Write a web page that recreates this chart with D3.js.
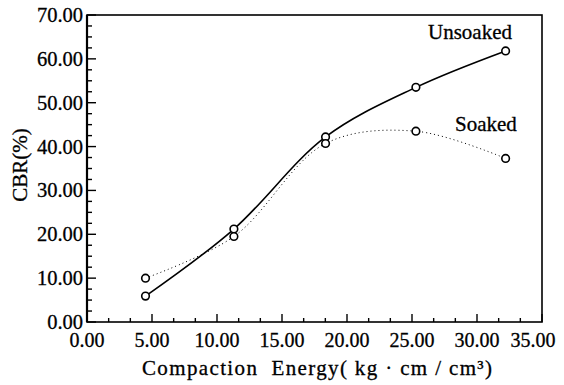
<!DOCTYPE html>
<html>
<head>
<meta charset="utf-8">
<title>CBR vs Compaction Energy</title>
<script src="https://cdn.jsdelivr.net/npm/d3@7"></script>
<style>
  body { margin: 0; background: #fff; }
  text { font-family: "Liberation Serif", "Times New Roman", serif; fill: #000; stroke: #000; stroke-width: 0.3px; }
</style>
</head>
<body>
<div id="chart"></div>
<script>
// data
var energy = [4.5, 11.3, 18.35, 25.3, 32.2];
var unsoaked = [5.9, 21.2, 42.2, 53.5, 61.8];
var soaked = [10.0, 19.5, 40.7, 43.5, 37.3];
var xTicks = [0, 5, 10, 15, 20, 25, 30, 35];
var yTicks = [0, 10, 20, 30, 40, 50, 60, 70];

var width = 564, height = 385,
    padL = 87, padR = 542, padT = 15, padB = 322;

var svg = d3.select('#chart').append('svg')
    .attr('width', width)
    .attr('height', height);

var x = d3.scaleLinear().domain([0, 35]).range([padL, padR]);
var y = d3.scaleLinear().domain([0, 70]).range([padB, padT]);

// frame
svg.append('rect')
    .attr('x', padL).attr('y', padT)
    .attr('width', padR - padL).attr('height', padB - padT)
    .attr('fill', 'none').attr('stroke', '#000').attr('stroke-width', 1.6);
svg.append('line')
    .attr('x1', padL).attr('x2', padL).attr('y1', padT).attr('y2', padB)
    .attr('stroke', '#000').attr('stroke-width', 2.2);

// ticks pointing inward, minor every 5/3 on x and 2.5 on y
var xMinor = d3.range(0, 35.01, 5 / 3);
svg.selectAll('.xt').data(xMinor).enter().append('line')
    .attr('x1', function(d) { return x(d); })
    .attr('x2', function(d) { return x(d); })
    .attr('y1', padB)
    .attr('y2', function(d, i) { return i % 3 == 0 ? padB - 8 : padB - 4; })
    .attr('stroke', '#000').attr('stroke-width', 1.4);

var yMinor = d3.range(0, 70.01, 2.5);
svg.selectAll('.yt').data(yMinor).enter().append('line')
    .attr('y1', function(d) { return y(d); })
    .attr('y2', function(d) { return y(d); })
    .attr('x1', padL)
    .attr('x2', function(d, i) { return i % 4 == 0 ? padL + 9 : padL + 5; })
    .attr('stroke', '#000').attr('stroke-width', 1.4);

// tick labels (last one pulled in so it stays on the page)
svg.selectAll('.xl').data(xTicks).enter().append('text')
    .attr('x', function(d, i) { return i == xTicks.length - 1 ? x(d) - 9 : x(d); })
    .attr('y', 347)
    .attr('text-anchor', 'middle')
    .style('font-size', '20px')
    .text(function(d) { return d.toFixed(2); });

svg.selectAll('.yl').data(yTicks).enter().append('text')
    .attr('x', 83)
    .attr('y', function(d) { return y(d) + 7; })
    .attr('text-anchor', 'end')
    .style('font-size', '20.5px')
    .text(function(d) { return d.toFixed(2); });

// axis titles
svg.append('text')
    .attr('x', 142)
    .attr('y', 375)
    .attr('textLength', 350)
    .attr('lengthAdjust', 'spacing')
    .style('font-size', '21px')
    .style('white-space', 'pre')
    .text('Compaction  Energy( kg · cm / cm³)');

svg.append('text')
    .attr('transform', 'translate(27,165) rotate(-90)')
    .attr('text-anchor', 'middle')
    .style('font-size', '21px')
    .text('CBR(%)');

// curves
var line = d3.line().curve(d3.curveCatmullRom)
    .x(function(d) { return x(d[0]); })
    .y(function(d) { return y(d[1]); });

var uPts = d3.zip(energy, unsoaked);
var sPts = d3.zip(energy, soaked);

svg.append('path').attr('d', line(sPts))
    .attr('fill', 'none').attr('stroke', '#000')
    .attr('stroke-width', 1).attr('stroke-dasharray', '1,3');

svg.append('path').attr('d', line(uPts))
    .attr('fill', 'none').attr('stroke', '#000').attr('stroke-width', 1.6);

svg.selectAll('.pt').data(uPts.concat(sPts)).enter().append('circle')
    .attr('cx', function(d) { return x(d[0]); })
    .attr('cy', function(d) { return y(d[1]); })
    .attr('r', 3.8)
    .attr('fill', '#fff').attr('stroke', '#000').attr('stroke-width', 1.6);

// series labels
svg.append('text').attr('x', 428).attr('y', 39)
    .style('font-size', '21px').text('Unsoaked');
svg.append('text').attr('x', 455).attr('y', 131)
    .style('font-size', '21px').text('Soaked');
</script>
</body>
</html>
